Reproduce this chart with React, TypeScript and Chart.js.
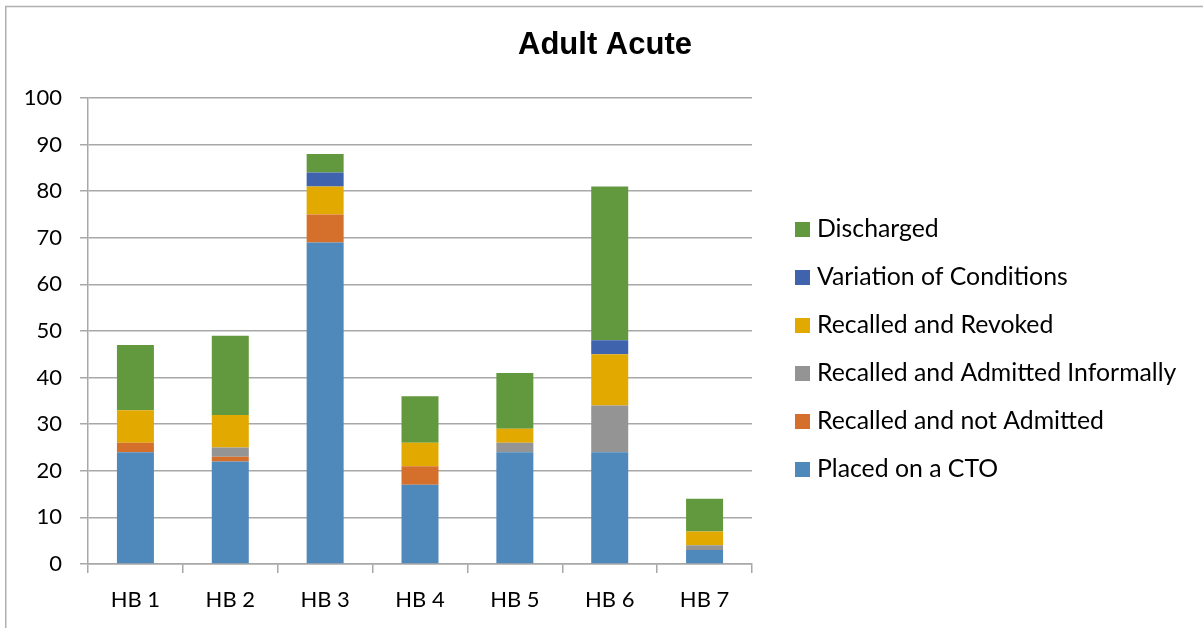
import React, { useEffect, useRef } from "react";
import { Chart, registerables } from "chart.js";

Chart.register(...registerables);

const categories = ["HB 1", "HB 2", "HB 3", "HB 4", "HB 5", "HB 6", "HB 7"];
const placedOnCTO = [24, 22, 69, 17, 24, 24, 3];
const recalledNotAdmitted = [2, 1, 6, 4, 0, 0, 0];
const recalledAdmittedInformally = [0, 2, 0, 0, 2, 10, 1];
const recalledRevoked = [7, 7, 6, 5, 3, 11, 3];
const variationOfConditions = [0, 0, 3, 0, 0, 3, 0];
const discharged = [14, 17, 4, 10, 12, 33, 7];
const yTicks = [0, 10, 20, 30, 40, 50, 60, 70, 80, 90, 100];
const chartTitle = "Adult Acute";

const seriesNames = [
  "Placed on a CTO",
  "Recalled and not Admitted",
  "Recalled and Admitted Informally",
  "Recalled and Revoked",
  "Variation of Conditions",
  "Discharged",
];
const seriesColors = ["#4F88BB", "#D5702C", "#949494", "#E2AA00", "#3F63AC", "#63993E"];
const seriesValues = [
  placedOnCTO,
  recalledNotAdmitted,
  recalledAdmittedInformally,
  recalledRevoked,
  variationOfConditions,
  discharged,
];

const FONT = "Lato, 'Noto Sans', sans-serif";
const GRID = "#a8a8a8";

const framePlugin = {
  id: "frame",
  beforeDraw(chart: any) {
    const ctx = chart.ctx;
    ctx.save();
    ctx.strokeStyle = "#b0b0b0";
    ctx.lineWidth = 1.5;
    ctx.beginPath();
    ctx.moveTo(5.75, 628);
    ctx.lineTo(5.75, 6.5);
    ctx.lineTo(1203, 6.5);
    ctx.stroke();
    ctx.restore();
  },
};

const titlePlugin = {
  id: "centeredTitle",
  afterDraw(chart: any) {
    const ctx = chart.ctx;
    ctx.save();
    ctx.font = "bold 31px 'Liberation Sans', Arial, sans-serif";
    ctx.fillStyle = "#000";
    ctx.textAlign = "center";
    ctx.textBaseline = "middle";
    ctx.fillText(chartTitle, 605, 45);
    ctx.restore();
  },
};

const legendPlugin = {
  id: "customLegend",
  afterDraw(chart: any) {
    const ctx = chart.ctx;
    const ds = chart.data.datasets;
    ctx.save();
    ctx.font = `24.8px ${FONT}`;
    ctx.textBaseline = "middle";
    ctx.textAlign = "left";
    const n = ds.length;
    for (let k = 0; k < n; k++) {
      const d = ds[n - 1 - k];
      const yc = 229.5 + k * 48;
      ctx.fillStyle = d.backgroundColor;
      ctx.fillRect(795, yc - 7.5, 15, 15);
      ctx.fillStyle = "#000";
      ctx.fillText(d.label, 817, yc);
    }
    ctx.restore();
  },
};

export default function App() {
  const ref = useRef<HTMLCanvasElement>(null);
  useEffect(() => {
    if (!ref.current) return;
    const chart = new Chart(ref.current, {
      type: "bar",
      data: {
        labels: categories,
        datasets: seriesNames.map((name, i) => ({
          label: name,
          data: seriesValues[i],
          backgroundColor: seriesColors[i],
          borderWidth: 0,
          barPercentage: 0.39,
          categoryPercentage: 1,
        })),
      },
      options: {
        animation: false,
        responsive: false,
        devicePixelRatio: 1,
        layout: { padding: { left: 8, right: 1203 - 752, top: 98, bottom: 0 } },
        plugins: {
          legend: { display: false },
          tooltip: { enabled: false },
          title: { display: false },
        },
        scales: {
          x: {
            stacked: true,
            afterFit: (s: any) => {
              s.height = 64;
            },
            grid: {
              offset: true,
              drawOnChartArea: false,
              drawTicks: true,
              tickLength: 9,
              color: GRID,
              lineWidth: 1.5,
            },
            border: { display: true, color: GRID, width: 1.5 },
            ticks: {
              color: "#000",
              font: { family: FONT, size: 22 },
              padding: 14,
              maxRotation: 0,
              autoSkip: false,
            },
          },
          y: {
            stacked: true,
            min: 0,
            max: 100,
            afterFit: (s: any) => {
              s.width = 80;
            },
            afterBuildTicks: (s: any) => {
              s.ticks = yTicks.map((v) => ({ value: v }));
            },
            grid: {
              drawTicks: true,
              tickLength: 8,
              color: GRID,
              lineWidth: 1.5,
            },
            border: { display: true, color: GRID, width: 1.5 },
            ticks: {
              color: "#000",
              font: { family: FONT, size: 22 },
              padding: 18,
            },
          },
        },
      },
      plugins: [framePlugin, titlePlugin, legendPlugin],
    });
    return () => chart.destroy();
  }, []);
  return (
    <div style={{ position: "absolute", left: 0, top: 0, width: 1203, height: 628, background: "#fff" }}>
      <canvas ref={ref} width={1203} height={628} style={{ display: "block" }} />
    </div>
  );
}
